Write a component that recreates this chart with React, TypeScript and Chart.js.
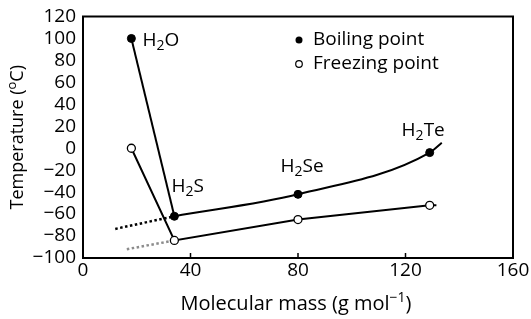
import React, { useEffect, useRef } from 'react';
import { Chart, registerables } from 'chart.js';

Chart.register(...registerables);

// ---- data ----
const compoundLabels = [
  ['H', '2', 'O'],
  ['H', '2', 'S'],
  ['H', '2', 'Se'],
  ['H', '2', 'Te'],
];
const molecularMass = [18, 34, 80, 129];
const boilingPoint = [100, -62, -42, -4];
const freezingPoint = [0, -84, -65, -52];
const boilingExtrapolated = [
  { x: 12, y: -73.5 },
  { x: 34, y: -62 },
];
const freezingExtrapolated = [
  { x: 16.3, y: -92 },
  { x: 34, y: -84 },
];
const boilingTail = { x: 133.5, y: 5 };
const freezingTail = { x: 131.5, y: -52 };
const xTicks = [0, 40, 80, 120, 160];
const yTicks = [-100, -80, -60, -40, -20, 0, 20, 40, 60, 80, 100, 120];

const FONT = '"Open Sans", sans-serif';
const FS = 19;

function pts(xs: number[], ys: number[]) {
  return xs.map((x, i) => ({ x, y: ys[i] }));
}

function drawRich(
  ctx: CanvasRenderingContext2D,
  parts: { t: string; s?: 'sub' | 'sup' }[],
  x: number,
  y: number,
  size: number,
  align: 'left' | 'center'
) {
  const small = Math.round(size * 0.72);
  const widths = parts.map((p) => {
    ctx.font = `${p.s ? small : size}px ${FONT}`;
    return ctx.measureText(p.t).width;
  });
  const total = widths.reduce((a, b) => a + b, 0);
  let cx = align === 'center' ? x - total / 2 : x;
  ctx.textBaseline = 'middle';
  ctx.textAlign = 'left';
  parts.forEach((p, i) => {
    ctx.font = `${p.s ? small : size}px ${FONT}`;
    const dy = p.s === 'sub' ? size * 0.3 : p.s === 'sup' ? -size * 0.3 : 0;
    ctx.fillText(p.t, cx, y + dy);
    cx += widths[i];
  });
  return total;
}

const labelOffsets = [
  { dx: 11, dy: 2, align: 'left' },
  { dx: -3, dy: -30, align: 'left' },
  { dx: 4, dy: -28, align: 'center' },
  { dx: -6.5, dy: -22, align: 'center' },
];

const decorPlugin = {
  id: 'decor',
  afterDatasetsDraw(chart: any) {
    const { ctx, scales } = chart;
    const xs = scales.x;
    const ys = scales.y;
    ctx.save();
    ctx.fillStyle = '#000';
    compoundLabels.forEach((lab, i) => {
      const px = xs.getPixelForValue(molecularMass[i]) + labelOffsets[i].dx;
      const py = ys.getPixelForValue(boilingPoint[i]) + labelOffsets[i].dy;
      drawRich(
        ctx,
        [{ t: lab[0] }, { t: lab[1], s: 'sub' }, { t: lab[2] }],
        px,
        py,
        FS,
        labelOffsets[i].align as any
      );
    });
    // legend
    const lx = 299;
    const ly1 = 40;
    const ly2 = 64;
    ctx.beginPath();
    ctx.arc(lx, ly1, 3.5, 0, Math.PI * 2);
    ctx.fill();
    ctx.beginPath();
    ctx.arc(lx, ly2, 3.3, 0, Math.PI * 2);
    ctx.fillStyle = '#fff';
    ctx.fill();
    ctx.lineWidth = 1.2;
    ctx.strokeStyle = '#000';
    ctx.stroke();
    ctx.fillStyle = '#000';
    ctx.font = `${FS}px ${FONT}`;
    ctx.textAlign = 'left';
    ctx.textBaseline = 'middle';
    ctx.fillText('Boiling point', 313, ly1);
    ctx.fillText('Freezing point', 313, ly2);
    ctx.restore();
  },
  afterDraw(chart: any) {
    const { ctx, chartArea: a, scales } = chart;
    ctx.save();
    ctx.strokeStyle = '#000';
    ctx.lineWidth = 2;
    ctx.strokeRect(a.left, a.top, a.right - a.left, a.bottom - a.top);
    ctx.lineWidth = 1.5;
    xTicks.forEach((v) => {
      const px = scales.x.getPixelForValue(v);
      ctx.beginPath();
      ctx.moveTo(px, a.bottom);
      ctx.lineTo(px, a.bottom - 5);
      ctx.stroke();
    });
    ctx.fillStyle = '#000';
    drawRich(
      ctx,
      [{ t: 'Molecular mass (g mol' }, { t: '\u22121', s: 'sup' }, { t: ')' }],
      296,
      304,
      20,
      'center'
    );
    ctx.translate(18, (a.top + a.bottom) / 2);
    ctx.rotate(-Math.PI / 2);
    drawRich(
      ctx,
      [{ t: 'Temperature (' }, { t: 'o', s: 'sup' }, { t: 'C)' }],
      0,
      0,
      18,
      'center'
    );
    ctx.restore();
  },
};

export default function App() {
  const ref = useRef<HTMLCanvasElement | null>(null);
  useEffect(() => {
    if (!ref.current) return;
    const boilingCurve = [
      ...pts(molecularMass.slice(1), boilingPoint.slice(1)),
      boilingTail,
    ];
    const freezingLine = [...pts(molecularMass, freezingPoint), freezingTail];
    const chart = new Chart(ref.current, {
      type: 'scatter',
      data: {
        datasets: [
          {
            data: pts(molecularMass, boilingPoint),
            showLine: false,
            pointRadius: 4,
            pointBackgroundColor: '#000',
            pointBorderColor: '#000',
            pointBorderWidth: 1,
          },
          {
            data: pts(molecularMass, freezingPoint),
            showLine: false,
            pointRadius: 4,
            pointBackgroundColor: '#fff',
            pointBorderColor: '#000',
            pointBorderWidth: 1.3,
          },
          {
            data: pts(molecularMass.slice(0, 2), boilingPoint.slice(0, 2)),
            showLine: true,
            borderColor: '#000',
            borderWidth: 2,
            pointRadius: 0,
          },
          {
            data: boilingCurve,
            showLine: true,
            borderColor: '#000',
            borderWidth: 2,
            pointRadius: 0,
            cubicInterpolationMode: 'monotone',
          },
          {
            data: freezingLine,
            showLine: true,
            borderColor: '#000',
            borderWidth: 2,
            pointRadius: 0,
          },
          {
            data: boilingExtrapolated,
            showLine: true,
            borderColor: '#000',
            borderWidth: 2.5,
            borderDash: [2.5, 2.5],
            pointRadius: 0,
          },
          {
            data: freezingExtrapolated,
            showLine: true,
            borderColor: '#8c8c8c',
            borderWidth: 2.5,
            borderDash: [2.5, 2.5],
            pointRadius: 0,
          },
        ],
      },
      options: {
        animation: false,
        responsive: false,
        maintainAspectRatio: false,
        layout: { padding: { left: 0, top: 16, right: 18, bottom: 0 } },
        plugins: {
          legend: { display: false },
          tooltip: { enabled: false },
        },
        scales: {
          x: {
            type: 'linear',
            min: 0,
            max: 160,
            afterBuildTicks: (s: any) => {
              s.ticks = xTicks.map((v) => ({ value: v }));
            },
            afterFit: (s: any) => {
              s.height = 61;
            },
            grid: { display: false, drawTicks: false },
            border: { display: false },
            ticks: {
              color: '#000',
              font: { family: FONT, size: FS },
              padding: 1,
              maxRotation: 0,
              autoSkip: false,
              callback: (v: any) => String(v).replace('-', '\u2212'),
            },
          },
          y: {
            type: 'linear',
            min: -100,
            max: 120,
            afterBuildTicks: (s: any) => {
              s.ticks = yTicks.map((v) => ({ value: v }));
            },
            afterFit: (s: any) => {
              s.width = 83;
            },
            grid: { display: false, drawTicks: false },
            border: { display: false },
            ticks: {
              color: '#000',
              font: { family: FONT, size: FS, lineHeight: 1 },
              padding: 7,
              autoSkip: false,
              callback: (v: any) => String(v).replace('-', '\u2212'),
            },
          },
        },
      },
      plugins: [decorPlugin],
    });
    return () => chart.destroy();
  }, []);
  return (
    <div style={{ position: 'fixed', left: 0, top: 0, width: 531, height: 319, background: '#fff' }}>
      <canvas ref={ref} width={531} height={319} />
    </div>
  );
}
